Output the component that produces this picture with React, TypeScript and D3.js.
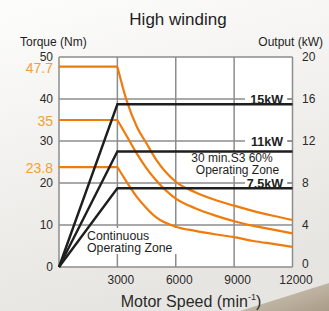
import React from "react";
import * as d3 from "d3";

const speedTicks = [0, 3000, 6000, 9000, 12000];
const torqueTicks = [0, 10, 20, 30, 40, 50];
const outputTicks = [0, 4, 8, 12, 16, 20];

// torque curves (Nm) after base speed
const curveSpeeds = [3000, 3500, 4000, 4500, 5000, 6000, 7000, 8000, 9000, 10000, 11000, 12000];
const torqueShort = [47.7, 39.3, 33.4, 29.4, 25.5, 20.3, 17.8, 16.0, 14.6, 13.3, 12.2, 11.2];
const torque30min = [35, 31.0, 27.0, 23.5, 20.6, 16.3, 14.0, 12.3, 10.9, 9.8, 8.9, 8.0];
const torqueCont = [23.8, 20.1, 16.7, 14.0, 11.8, 9.6, 8.6, 7.8, 7.1, 6.2, 5.5, 4.8];
const ratedTorqueLabels = ["47.7", "35", "23.8"];

// output lines (kW)
const outputSpeeds = [0, 3000, 12000];
const outputLevels = [15.5, 11, 7.5];
const outputLabels = ["15kW", "11kW", "7.5kW"];
const outputLabelTicks = [16, 12, 8];

const W = 329;
const H = 311;
const FONT = "'Liberation Sans', Arial, Helvetica, sans-serif";
const ORANGE = "#f07a0a";
const ORANGE_TEXT = "#f2a035";

export default function App() {
  const x = d3.scaleLinear().domain([0, 12000]).range([59, 292.5]);
  const yT = d3.scaleLinear().domain([0, 50]).range([267, 57]);
  const yP = d3.scaleLinear().domain([0, 20]).range([267, 57]);

  const torqueLine = d3
    .line<[number, number]>()
    .x((d) => x(d[0]))
    .y((d) => yT(d[1]))
    .curve(d3.curveMonotoneX);

  const powerLine = d3
    .line<[number, number]>()
    .x((d) => x(d[0]))
    .y((d) => yP(d[1]));

  const torqueCurves = [torqueShort, torque30min, torqueCont];
  const [x0, x1] = x.range();
  const [yb, yt] = yT.range();

  return (
    <div style={{ position: "absolute", left: 0, top: 0 }}>
      <svg width={W} height={H} style={{ display: "block", fontFamily: FONT }}>
        <defs>
          <linearGradient id="bg" x1="0" y1="0" x2="0.3" y2="1">
            <stop offset="0" stopColor="#fdfdfc" />
            <stop offset="1" stopColor="#e7e5e1" />
          </linearGradient>
          <linearGradient id="wedge" x1="0" y1="0" x2="1" y2="1">
            <stop offset="0" stopColor="#d6cdbf" />
            <stop offset="1" stopColor="#a99c88" />
          </linearGradient>
        </defs>
        <rect width={W} height={H} fill="url(#bg)" />
        <polygon points={`240,311 329,283 329,311`} fill="url(#wedge)" />

        <rect x={x0} y={yt} width={x1 - x0} height={yb - yt} fill="#fff" />

        {/* grid */}
        {torqueTicks.map((t) => (
          <line key={"h" + t} x1={x0} x2={x1} y1={yT(t)} y2={yT(t)} stroke="#8c8c8c" strokeWidth={1.5} />
        ))}
        {speedTicks.map((s) => (
          <line key={"v" + s} x1={x(s)} x2={x(s)} y1={yt} y2={yb} stroke="#8c8c8c" strokeWidth={1.5} />
        ))}

        {/* white boxes behind labels */}
        {outputLabelTicks.map((t, i) => (
          <rect key={"b" + i} x={245} y={yP(t) - 6} width={43} height={11} fill="#fff" />
        ))}
        <rect x={187} y={152} width={97} height={24} fill="#fff" />
        <rect x={85} y={228} width={92} height={26} fill="#fff" />

        {/* torque curves */}
        {torqueCurves.map((vals, i) => {
          const pts: [number, number][] = curveSpeeds.map((s, j) => [s, vals[j]]);
          return (
            <g key={"t" + i}>
              <line x1={x(0)} x2={x(curveSpeeds[0])} y1={yT(vals[0])} y2={yT(vals[0])} stroke={ORANGE} strokeWidth={2.2} />
              <path d={torqueLine(pts) || ""} fill="none" stroke={ORANGE} strokeWidth={2.2} />
            </g>
          );
        })}

        {/* output lines */}
        {outputLevels.map((p, i) => {
          const pts: [number, number][] = outputSpeeds.map((s) => [s, s === 0 ? 0 : p]);
          return <path key={"p" + i} d={powerLine(pts) || ""} fill="none" stroke="#1e1e1e" strokeWidth={2.4} />;
        })}

        {/* right axis small ticks */}
        {outputLabelTicks.map((t) => (
          <line key={"rt" + t} x1={287} x2={x1} y1={yP(t)} y2={yP(t)} stroke="#8c8c8c" strokeWidth={1.5} />
        ))}

        {/* left axis labels */}
        {torqueTicks.map((t) => (
          <text key={"lt" + t} x={53} y={yT(t)} dy="0.36em" textAnchor="end" fontSize={12} fill="#2a2a2a">
            {t}
          </text>
        ))}
        {ratedTorqueLabels.map((l, i) => (
          <text key={"ol" + i} x={53} y={yT(torqueCurves[i][0]) + 1} dy="0.36em" textAnchor="end" fontSize={14} fill={ORANGE_TEXT}>
            {l}
          </text>
        ))}

        {/* right axis labels */}
        {outputTicks.map((t) => (
          <text key={"rl" + t} x={302} y={yP(t) - (t === 0 ? 3 : 0)} dy="0.36em" fontSize={12} fill="#2a2a2a">
            {t}
          </text>
        ))}

        {/* x axis labels */}
        {speedTicks.slice(1).map((s) => (
          <text key={"xl" + s} x={x(s) + 3.5} y={280} dy="0.36em" textAnchor="middle" fontSize={12} fill="#2a2a2a">
            {s}
          </text>
        ))}

        {/* output labels */}
        {outputLabels.map((l, i) => (
          <text key={"kl" + i} x={283} y={yP(outputLabelTicks[i])} dy="0.36em" textAnchor="end" fontSize={12.5} fontWeight="bold" fill="#1e1e1e">
            {l}
          </text>
        ))}

        {/* zone annotations */}
        <text x={232} y={158} dy="0.36em" textAnchor="middle" fontSize={12} fill="#1e1e1e">
          30 min.S3 60%
        </text>
        <text x={237.5} y={169.5} dy="0.36em" textAnchor="middle" fontSize={12} fill="#1e1e1e">
          Operating Zone
        </text>
        <text x={87} y={235.5} dy="0.36em" fontSize={12.3} fill="#1e1e1e">
          Continuous
        </text>
        <text x={87} y={247.5} dy="0.36em" fontSize={12.3} fill="#1e1e1e">
          Operating Zone
        </text>

        {/* titles */}
        <text x={178} y={19} dy="0.36em" textAnchor="middle" fontSize={17} fill="#1e1e1e">
          High winding
        </text>
        <text x={20} y={42} dy="0.36em" fontSize={12} fill="#1e1e1e">
          Torque (Nm)
        </text>
        <text x={323} y={42} dy="0.36em" textAnchor="end" fontSize={12} fill="#1e1e1e">
          Output (kW)
        </text>
        <text x={191} y={301.5} dy="0.36em" textAnchor="middle" fontSize={16} fill="#2a2a2a">
          Motor Speed (min
          <tspan fontSize={9} dy="-0.8em">-1</tspan>
          <tspan dy="0.45em">)</tspan>
        </text>
      </svg>
    </div>
  );
}
